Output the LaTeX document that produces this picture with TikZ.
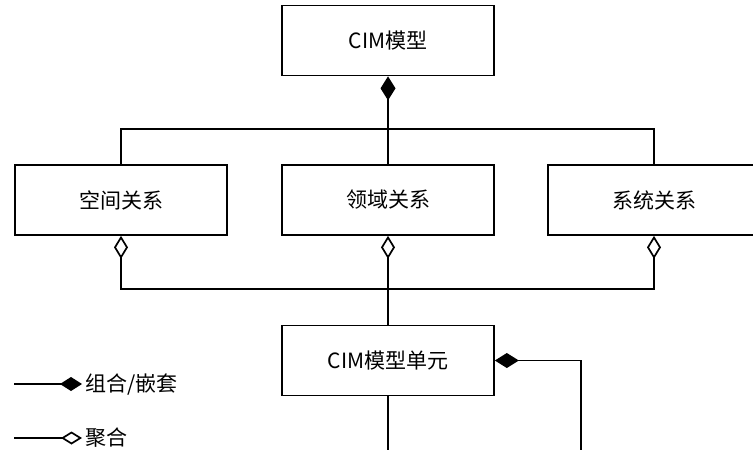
\documentclass[tikz,border=0pt]{standalone}
\usepackage{fontspec}
\setmainfont{Noto Sans CJK SC}
\usetikzlibrary{arrows.meta}

\begin{document}
\begin{tikzpicture}[x=1pt, y=-1pt,
    box/.style={draw, line width=1.7pt, minimum width=212pt, minimum height=70pt, inner sep=0pt, font=\fontsize{21}{25}\selectfont},
    legendtext/.style={inner sep=3pt, font=\fontsize{21}{25}\selectfont},
    link/.style={line width=1.7pt},
    comp/.style={link, {Diamond[length=24pt, width=15pt]}-},
    aggr/.style={link, {Diamond[open, length=23pt, width=14pt]}-}]
    \path[use as bounding box] (0,0) rectangle (753,450);
    \clip (0,0) rectangle (753,450);

    \node[box] (model) at (388,40.5) {CIM模型};
    \node[box] (spatial) at (121,200) {空间关系};
    \node[box] (domain) at (388,200) {领域关系};
    \node[box] (system) at (654,200) {系统关系};
    \node[box] (unit) at (388,360.5) {CIM模型单元};

    \coordinate (topbus) at (388,129);
    \coordinate (lowbus) at (388,289);
    \coordinate (loopcorner) at (581,470);

    \draw[comp] (model.south) -- (domain.north);
    \draw[link] (spatial.north) |- (topbus) -| (system.north);

    \draw[aggr] (spatial.south) |- (lowbus);
    \draw[aggr] (system.south) |- (lowbus);
    \draw[aggr] (domain.south) -- (unit.north);

    \draw[comp] (unit.east) -| (loopcorner) -| (unit.south);

    % legend
    \node[legendtext, anchor=west] (comptext) at (82,385) {组合/嵌套};
    \node[legendtext, anchor=west] (aggrtext) at (82,438) {聚合};
    \coordinate (compstart) at (14,384);
    \coordinate (aggrstart) at (14,438);
    \draw[link, -{Diamond[length=22pt, width=14pt]}] (compstart) -- (compstart -| comptext.west);
    \draw[link, -{Diamond[open, length=21pt, width=13pt]}] (aggrstart) -- (aggrtext.west);
\end{tikzpicture}
\end{document}
